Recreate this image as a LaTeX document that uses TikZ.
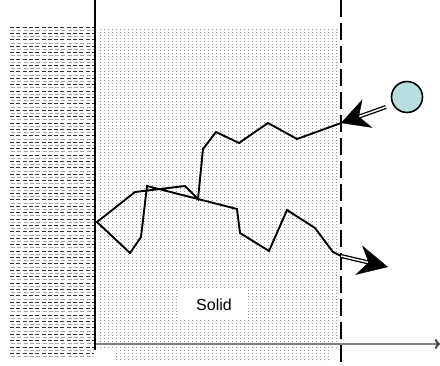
\documentclass[tikz,border=0pt]{standalone}
\usepackage{fontspec}
\setmainfont{Liberation Sans}
\usetikzlibrary{arrows.meta,patterns,calc}

% fine grey stipple for the solid
\pgfdeclarepatternformonly{sanddots}{\pgfqpoint{0pt}{0pt}}{\pgfqpoint{4pt}{3pt}}{\pgfqpoint{4pt}{3pt}}%
  {\pgfpathrectangle{\pgfqpoint{0pt}{0pt}}{\pgfqpoint{1.4pt}{1.3pt}}\pgfusepath{fill}}

\definecolor{ballblue}{RGB}{184,222,224}

\begin{document}
\begin{tikzpicture}[x=1pt,y=-1pt,
  track/.style={line width=1.9pt, line join=miter},
  shaft/.style={draw=black, double=white, line width=1.3pt, double distance=1.5pt},
  headA/.style={-{Stealth[length=28pt,width=30pt,inset=9pt]}, line width=0.4pt},
  headB/.style={-{Stealth[length=30pt,width=30pt,inset=10pt]}, line width=0.4pt},
  ball/.style={circle, draw, line width=1.6pt, fill=ballblue, minimum size=31pt, inner sep=0pt},
  label/.style={fill=white, minimum width=68pt, minimum height=30pt, inner sep=0pt,
                font=\fontsize{16}{19}\selectfont}]
\useasboundingbox (0,0) rectangle (440,365);

% hatched backing material on the left
\begin{scope}
  \clip (10,25) rectangle (94,358);
  \foreach \y in {27,33.4,...,358}
    \draw[black!80, line width=0.7pt, dash pattern=on 4pt off 2.3pt] (10,\y) -- (94,\y);
  \foreach \y in {30.2,36.6,...,358}
    \draw[black!35, line width=0.7pt, dash pattern=on 4pt off 2.3pt] (11,\y) -- (94,\y);
\end{scope}

% stippled solid
\fill[pattern=sanddots, pattern color=black!40]
  (97,27) -- (340,27) -- (340,350) -- (330,350) -- (330,362) -- (113,362) -- (113,350) -- (97,350) -- cycle;

% surface and boundary lines
\draw[line width=2.2pt] (95,0) -- (95,350);
\draw[line width=2.2pt, dash pattern=on 17pt off 6pt] (341,0) -- (341,362);

% horizontal axis
\coordinate (axs) at (96,344);
\coordinate (axe) at (440,344);
\draw[black!50, line width=2pt, -{To[length=5pt,width=10pt,color=black!75]}] (axs) -- (axe);

% label
\node[label] (solid) at (214,305) {Solid};

% incoming particle
\node[ball] (ball) at (407,97) {};
\coordinate (inA) at (341,123);
\coordinate (tailA) at (386,107);
\draw[shaft] (tailA) -- ($(tailA)!0.75!(inA)$);
\draw[headA, shorten <=42pt] (tailA) -- (inA);

% particle track inside the solid
\draw[track] (inA) -- (297,139) -- (268,123) -- (239,143) -- (216,132) -- (203,149)
  -- (198,199) -- (185,186) -- (135,192) -- (97,222)
  -- (130,253) -- (141,237) -- (147,186) -- (198,199) -- (237,209) -- (240,233)
  -- (269,251) -- (287,210) -- (315,228) -- (333,252) -- (341,256) coordinate (outB);

% outgoing particle
\coordinate (tipB) at (388,267);
\draw[shaft] (outB) -- ($(outB)!0.7!(tipB)$);
\draw[headB, shorten <=44pt] (outB) -- (tipB);
\end{tikzpicture}
\end{document}
